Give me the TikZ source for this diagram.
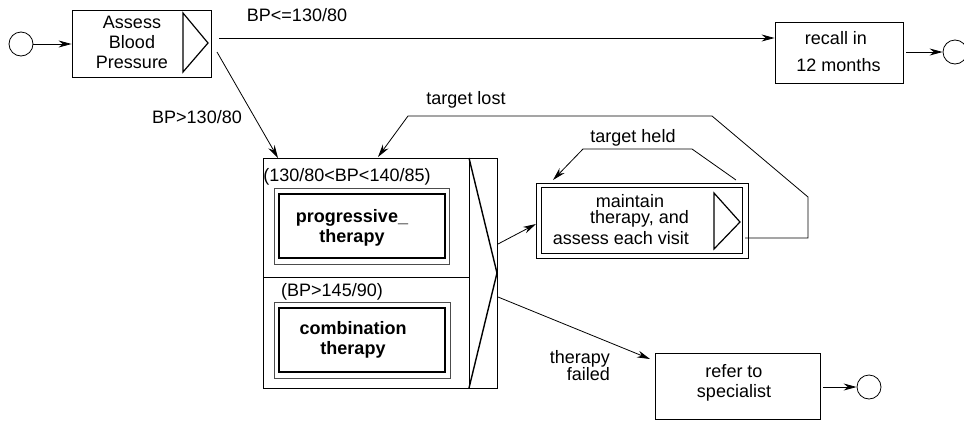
\documentclass[tikz,border=0pt]{standalone}
\usepackage{fontspec}
\setmainfont{Liberation Sans}
\usetikzlibrary{arrows.meta}
\begin{document}
\begin{tikzpicture}[x=1pt,y=-1pt,
  every node/.style={font=\fontsize{18}{20}\selectfont, inner sep=0pt},
  box/.style={draw, line width=0.9pt, rectangle, inner sep=0pt},
  thickbox/.style={draw, line width=1.8pt, rectangle, inner sep=0pt},
  circ/.style={draw, line width=0.8pt, circle, minimum size=24pt, inner sep=0pt},
  conn/.style={line width=0.8pt, -{Stealth[length=13pt,width=7pt]}},
  plain/.style={line width=0.8pt},
  tri/.style={line width=1.2pt, line join=miter},
  lbl/.style={font=\fontsize{18}{20}\selectfont},
  bold/.style={font=\fontsize{18}{20}\selectfont\bfseries}
]
\useasboundingbox (0,0) rectangle (964,421);

% nodes
\node[circ] (c1) at (21,44) {};
\node[box, minimum width=139pt, minimum height=67pt] (assess) at (141.5,43.5) {};
\node[align=center] (assesst) at (132,42) {Assess\\Blood\\Pressure};
\draw[tri] (183,13) -- (208,43) -- (183,72) -- cycle;

\node[box, minimum width=128pt, minimum height=61pt] (recall) at (839,52.5) {};
\node[align=center, font=\fontsize{18}{27}\selectfont] (recallt) at (836,51.5) {recall in\\ \ 12 months};
\node[circ] (c2) at (955,52) {};

\node[box, minimum width=234pt, minimum height=230pt] (big) at (380,273) {};
\draw[plain] (469,158) -- (469,388);
\draw[plain] (263,277) -- (469,277);
\draw[line width=1.4pt] (469,158) -- (497,273) -- (469,388);

\node[lbl] (cond1) at (347,177) {(130/80<BP<140/85)};
\node[box, line width=0.7pt, draw=black!70, minimum width=175pt, minimum height=76pt] (progo) at (361.5,226) {};
\node[thickbox, minimum width=166pt, minimum height=64pt] (progi) at (362,226) {};
\node[bold, align=center] (progt) at (352,228) {progressive\_\\therapy};

\node[lbl] (cond2) at (332,292) {(BP>145/90)};
\node[box, line width=0.7pt, draw=black!70, minimum width=176pt, minimum height=76pt] (combo) at (362,340) {};
\node[thickbox, minimum width=166pt, minimum height=64pt] (combi) at (362,340) {};
\node[bold, align=center] (combt) at (353,340) {combination\\therapy};

\node[box, minimum width=212pt, minimum height=75pt] (maint) at (642,220.5) {};
\node[box, line width=0.7pt, minimum width=201pt, minimum height=66pt] (mainti) at (641.5,220) {};
\draw[tri] (714,193) -- (740,222) -- (714,249) -- cycle;
\node (m1) at (630,201) {maintain};
\node[anchor=east] (m2) at (689,219) {therapy, and};
\node[anchor=east] (m3) at (689,238) {assess each visit};

\node[box, minimum width=165pt, minimum height=66pt] (refer) at (737.5,386) {};
\node[align=center] (refert) at (734,383) {refer to\\specialist};
\node[circ] (c3) at (869,387) {};

% labels
\node[lbl] (l1) at (297,15) {BP<=130/80};
\node[lbl] (l2) at (197,117) {BP>130/80};
\node[lbl] (l3) at (466,100) {target lost};
\node[lbl] (l4) at (633,138) {target held};
\node[align=right, anchor=east, font=\fontsize{18}{17}\selectfont] (l5) at (610,366) {therapy\\failed};

% coordinates
\coordinate (a1) at (219,38);
\coordinate (a2) at (217,52);
\coordinate (a2e) at (278,158);
\coordinate (tl0) at (745,238);
\coordinate (tl1) at (808,238);
\coordinate (tl2) at (808,197);
\coordinate (tl3) at (712,116);
\coordinate (tl4) at (408,116);
\coordinate (tle) at (378,157);
\coordinate (th0) at (736,180);
\coordinate (th1) at (692,149);
\coordinate (th2) at (583,149);
\coordinate (the) at (553,180);
\coordinate (b1) at (498,244);
\coordinate (b1e) at (536,224);
\coordinate (b2) at (498,297);
\coordinate (b2e) at (650,359);

% connectors
\draw[conn] (c1.east) -- (c1.east -| assess.west);
\draw[conn] (a1) -- (a1 -| recall.west);
\draw[conn, shorten <=3pt] (recall.east |- c2) -- (c2.west);
\draw[conn] (a2) -- (a2e);
\draw[conn] (tl0) -- (tl1) -- (tl2) -- (tl3) -- (tl4) -- (tle);
\draw[conn] (th0) -- (th1) -- (th2) -- (the);
\draw[conn] (b1) -- (b1e);
\draw[conn] (b2) -- (b2e);
\draw[conn, shorten <=3pt] (refer.east |- c3) -- (c3.west);
\end{tikzpicture}
\end{document}
